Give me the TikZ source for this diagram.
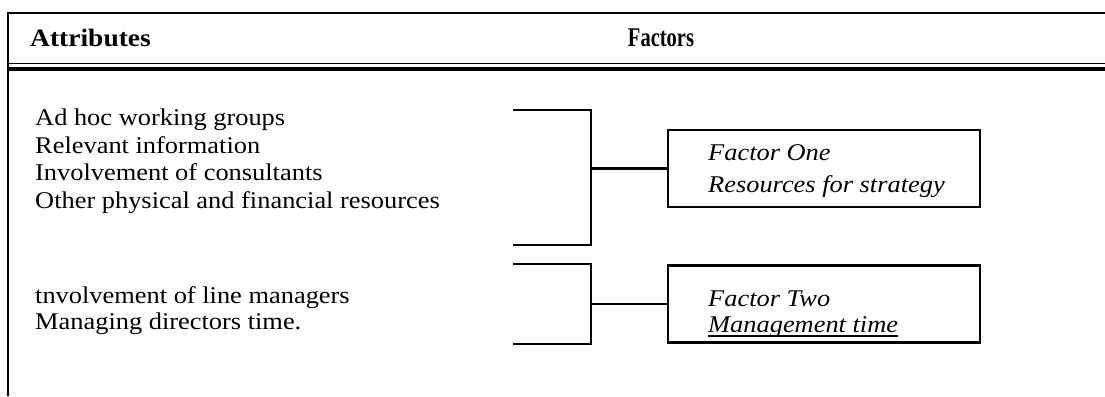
\documentclass[tikz,border=0pt]{standalone}
\usepackage{fontspec}
\setmainfont[FakeStretch=1.1]{Liberation Serif}
\newfontfamily\condfont[FakeStretch=0.76]{Liberation Serif}
\begin{document}
\begin{tikzpicture}[x=1pt,y=-1pt,
  rule/.style={line width=2.4pt},
  txt/.style={anchor=base west,inner sep=0pt,font=\fontsize{24}{28}\selectfont},
  head/.style={anchor=base west,inner sep=0pt,font=\fontsize{25}{28}\selectfont\bfseries},
  ftxt/.style={anchor=base west,inner sep=0pt,font=\fontsize{24}{28}\selectfont\itshape},
  fbox/.style={draw,line width=2.4pt,minimum width=312pt,minimum height=77pt,inner sep=0pt}]
\useasboundingbox (0,0) rectangle (1105,396);
% frame lines
\coordinate (tl) at (8,13);
\coordinate (tr) at (1105,13);
\coordinate (bl) at (8,396);
\draw[rule] (tr) -- (tl) -- (bl);
\coordinate (h1l) at (8,64); \coordinate (h1r) at (1105,64);
\coordinate (h2l) at (8,69); \coordinate (h2r) at (1105,69);
\draw[line width=1pt] (h1l) -- (h1r);
\draw[line width=3.5pt] (h2l) -- (h2r);
% header
\node[head] (hattr) at (30,47) {Attributes};
\node[head,anchor=base,font=\condfont\fontsize{27}{30}\selectfont\bfseries] (hfact) at (661,47) {Factors};
% attributes
\node[txt] (a1) at (35,125) {Ad hoc working groups};
\node[txt] (a2) at (35,153) {Relevant information};
\node[txt] (a3) at (35,180) {Involvement of consultants};
\node[txt] (a4) at (35,208) {Other physical and financial resources};
\node[txt] (a5) at (35,303) {tnvolvement of line managers};
\node[txt] (a6) at (35,329) {Managing directors time.};
% factor boxes
\node[fbox] (f1) at (824,168.5) {};
\node[fbox] (f2) at (824,304) {};
\node[ftxt] (f1a) at (708,160) {Factor One};
\node[ftxt] (f1b) at (708,192) {Resources for strategy};
\node[ftxt] (f2a) at (708,306) {Factor Two};
\node[ftxt] (f2b) at (708,332) {Management time};
\draw[line width=1.3pt] ([yshift=-4pt]f2b.base west) -- ([yshift=-4pt]f2b.base east);
% brackets
\coordinate (b1t) at (513,110); \coordinate (b1tc) at (591,110);
\coordinate (b1bc) at (591,245); \coordinate (b1b) at (513,245);
\coordinate (b1m) at (591,168.5);
\draw[rule] (b1t) -- (b1tc) -- (b1bc) -- (b1b);
\draw[rule] (b1m) -- (f1.west);
\coordinate (b2t) at (513,264); \coordinate (b2tc) at (591,264);
\coordinate (b2bc) at (591,344); \coordinate (b2b) at (513,344);
\coordinate (b2m) at (591,304);
\draw[rule] (b2t) -- (b2tc) -- (b2bc) -- (b2b);
\draw[rule] (b2m) -- (f2.west);
\end{tikzpicture}
\end{document}
